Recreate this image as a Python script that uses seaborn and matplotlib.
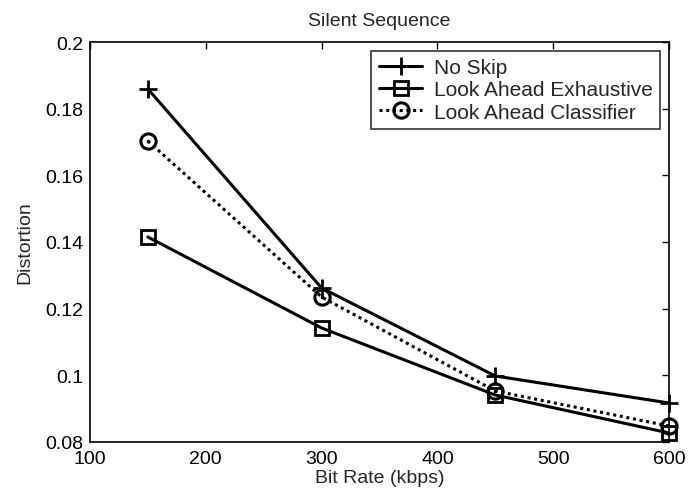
import matplotlib
matplotlib.use("Agg")
import matplotlib.pyplot as plt
import seaborn as sns
import pandas as pd

bit_rate = [150, 300, 450, 600]
no_skip = [0.1859, 0.1262, 0.0998, 0.0917]
la_exhaustive = [0.1415, 0.1142, 0.0941, 0.0827]
la_classifier = [0.1703, 0.1235, 0.0953, 0.0848]
series_names = ["No Skip", "Look Ahead Exhaustive", "Look Ahead Classifier"]
x_ticks = [100, 200, 300, 400, 500, 600]
y_ticks = [0.08, 0.1, 0.12, 0.14, 0.16, 0.18, 0.2]
y_tick_labels = ["0.08", "0.1", "0.12", "0.14", "0.16", "0.18", "0.2"]

sns.set_theme(style="white")
plt.rcParams['font.family'] = ['Liberation Sans', 'DejaVu Sans']
FS = 14

fig = plt.figure(figsize=(6.88, 5.02), dpi=100)
ax = fig.add_axes([90/688, 59/502, 579/688, 400/502])

styles = [
    dict(marker="+", linestyle="-", markersize=13, markeredgewidth=2),
    dict(marker="s", linestyle="-", markersize=10, markeredgewidth=2, markerfacecolor="none"),
    dict(marker="o", linestyle=(0, (1, 1.2)), markersize=11, markeredgewidth=2.2, markerfacecolor="none"),
]
for name, vals, st in zip(series_names, [no_skip, la_exhaustive, la_classifier], styles):
    df = pd.DataFrame({"Bit Rate": bit_rate, "Distortion": vals})
    sns.lineplot(data=df, x="Bit Rate", y="Distortion", ax=ax, color="black",
                 linewidth=2.2, label=name, markeredgecolor="black", clip_on=False, **st)

# center dot in circles (MATLAB style)
ax.plot(bit_rate, la_classifier, linestyle="none", marker=".", color="black",
        markersize=3, clip_on=False)

ax.set_xlim(100, 600)
ax.set_ylim(0.08, 0.2)
ax.set_xticks(x_ticks)
ax.set_yticks(y_ticks)
ax.set_yticklabels(y_tick_labels)
ax.tick_params(direction="in", length=5, width=1, top=True, right=True,
               labelsize=FS, colors="black")
ax.tick_params(axis="x", pad=6)
ax.tick_params(axis="y", pad=5)
for s in ax.spines.values():
    s.set_visible(True)
    s.set_color("black")
    s.set_linewidth(1.2)
ax.set_xlabel("Bit Rate (kbps)", fontsize=FS, labelpad=1)
ax.set_ylabel("Distortion", fontsize=FS, labelpad=8)
ax.set_title("Silent Sequence", fontsize=FS, pad=12)

leg = ax.legend(loc="upper right", bbox_to_anchor=(0.9845, 0.9775), borderaxespad=0,
                fontsize=15, frameon=True, fancybox=False, handlelength=2.1,
                handletextpad=0.55, labelspacing=0.15, borderpad=0.35)
leg.get_frame().set_edgecolor("black")
leg.get_frame().set_linewidth(1.2)

fig.savefig("out.png", dpi=100, facecolor="white")
